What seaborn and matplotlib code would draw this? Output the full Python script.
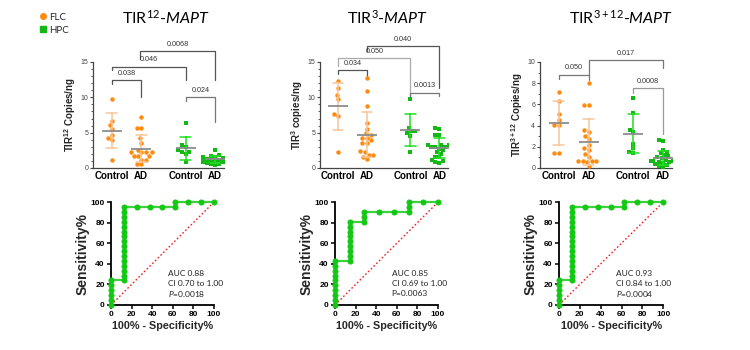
import numpy as np
import pandas as pd
import matplotlib
matplotlib.use('Agg')
import matplotlib.pyplot as plt
import seaborn as sns
from matplotlib.lines import Line2D
from matplotlib.ticker import MultipleLocator

sns.set_theme(style='ticks')
plt.rcParams['font.family'] = ['Liberation Sans', 'DejaVu Sans']
plt.rcParams['mathtext.fontset'] = 'custom'
plt.rcParams['mathtext.rm'] = 'Lato'
plt.rcParams['mathtext.it'] = 'Lato:italic'
plt.rcParams['mathtext.bf'] = 'Liberation Sans:bold'

# ---------------- data ----------------
groups = ['FLC Control', 'FLC AD', 'HPC Control', 'HPC AD']
group_pos = [0, 1, 2.5, 3.5]
cat_labels = ['Control', 'AD', 'Control', 'AD']

# TIR12-MAPT
flc_ctrl_12 = [9.7, 6.7, 6.1, 5.5, 4.7, 4.2, 3.9, 1.2]
flc_ad_12 = [7.2, 5.7, 5.6, 4.2, 3.6, 2.6, 2.2, 2.2, 2.2, 2.2, 1.7, 1.7, 1.7, 1.2, 1.2, 0.6, 0.5]
hpc_ctrl_12 = [6.3, 3.2, 2.9, 2.5, 2.3, 2.2, 2.0, 0.8]
hpc_ad_12 = [2.6, 1.8, 1.7, 1.6, 1.6, 1.5, 1.5, 1.4, 1.3, 1.3, 1.2, 1.2, 1.1, 1.0, 1.0, 0.9, 0.8, 0.7, 0.6, 0.5, 0.4]

# TIR3-MAPT
flc_ctrl_3 = [12.3, 11.3, 10.3, 9.7, 7.7, 7.4, 2.2]
flc_ad_3 = [12.7, 10.9, 8.7, 6.4, 5.5, 4.9, 4.6, 4.3, 4.3, 3.9, 3.6, 3.6, 2.4, 2.3, 1.9, 1.9, 1.6, 1.3]
hpc_ctrl_3 = [9.7, 5.7, 5.3, 5.2, 4.9, 4.5, 2.2]
hpc_ad_3 = [5.6, 5.5, 4.6, 4.6, 3.3, 3.3, 3.2, 3.2, 3.0, 3.0, 2.9, 2.7, 2.5, 2.2, 2.0, 1.6, 1.5, 1.2, 1.0, 0.8, 0.7]

# TIR3+12-MAPT
flc_ctrl_312 = [7.15, 6.35, 5.05, 4.5, 4.05, 4.05, 1.4, 1.4]
flc_ad_312 = [8.0, 5.9, 5.9, 3.6, 3.4, 3.0, 2.7, 2.2, 1.9, 1.7, 1.3, 1.0, 0.7, 0.7, 0.7, 0.7, 0.6, 0.2]
hpc_ctrl_312 = [6.6, 5.15, 3.55, 3.35, 2.3, 1.9, 1.5, 1.45]
hpc_ad_312 = [2.6, 2.55, 1.7, 1.5, 1.4, 1.2, 1.1, 1.0, 0.9, 0.8, 0.8, 0.7, 0.7, 0.7, 0.6, 0.6, 0.5, 0.4, 0.3, 0.2, 0.1]

# ROC curves (100% - specificity %, sensitivity %)
roc1_fpr = [0, 0, 0, 0, 0, 0, 12.5, 12.5, 12.5, 12.5, 12.5, 12.5, 12.5, 12.5, 12.5, 12.5, 12.5, 12.5,
            12.5, 12.5, 12.5, 12.5, 25, 37.5, 50, 62.5, 62.5, 75, 87.5, 100]
roc1_tpr = [0, 4.8, 9.5, 14.3, 19.0, 23.8, 23.8, 28.6, 33.3, 38.1, 42.9, 47.6, 52.4, 57.1, 61.9, 66.7,
            71.4, 76.2, 81.0, 85.7, 90.5, 95.2, 95.2, 95.2, 95.2, 95.2, 100, 100, 100, 100]
roc2_fpr = [0, 0, 0, 0, 0, 0, 0, 0, 0, 0, 14.3, 14.3, 14.3, 14.3, 14.3, 14.3, 14.3, 14.3, 14.3,
            28.6, 28.6, 28.6, 42.9, 57.1, 71.4, 71.4, 71.4, 85.7, 100]
roc2_tpr = [0, 4.8, 9.5, 14.3, 19.0, 23.8, 28.6, 33.3, 38.1, 42.9, 42.9, 47.6, 52.4, 57.1, 61.9, 66.7,
            71.4, 76.2, 81.0, 81.0, 85.7, 90.5, 90.5, 90.5, 90.5, 95.2, 100, 100, 100]
roc3_fpr = [0, 0, 0, 0, 0, 0, 12.5, 12.5, 12.5, 12.5, 12.5, 12.5, 12.5, 12.5, 12.5, 12.5, 12.5, 12.5,
            12.5, 12.5, 12.5, 12.5, 25, 37.5, 50, 62.5, 62.5, 75, 87.5, 100]
roc3_tpr = [0, 4.8, 9.5, 14.3, 19.0, 23.8, 23.8, 28.6, 33.3, 38.1, 42.9, 47.6, 52.4, 57.1, 61.9, 66.7,
            71.4, 76.2, 81.0, 85.7, 90.5, 95.2, 95.2, 95.2, 95.2, 95.2, 100, 100, 100, 100]

titles = [r'TIR$^{12}$-$\mathit{MAPT}$', r'TIR$^{3}$-$\mathit{MAPT}$', r'TIR$^{3+12}$-$\mathit{MAPT}$']
ylabels = [r'TIR$^{\mathbf{12}}$ Copies/ng', r'TIR$^{\mathbf{3}}$ copies/ng', r'TIR$^{\mathbf{3+12}}$ Copies/ng']
roc_texts = [['AUC 0.88', 'CI 0.70 to 1.00', r'$\mathit{P}$=0.0018'],
             ['AUC 0.85', 'CI 0.69 to 1.00', 'P=0.0063'],
             ['AUC 0.93', 'CI 0.84 to 1.00', r'$\mathit{P}$=0.0004']]
# brackets: (x1, x2, y, left_bottom, right_bottom, label, color)
brackets = [
    [(0, 1, 12.4, 11.9, 10.0, '0.038', '#555555'),
     (0, 2.5, 14.3, 13.8, 12.5, '0.046', '#555555'),
     (0.95, 3.5, 16.5, 15.4, 12.5, '0.0068', '#555555'),
     (2.5, 3.5, 10.0, 9.5, 6.5, '0.024', '#777777')],
    [(0, 1, 13.8, 13.3, 13.0, '0.034', '#555555'),
     (0, 2.5, 15.5, 14.4, 10.1, '0.050', '#AAAAAA'),
     (1, 3.5, 17.2, 16.5, 11.3, '0.040', '#555555'),
     (2.5, 3.5, 10.6, 10.1, 10.2, '0.0013', '#777777')],
    [(0, 1, 8.8, 8.4, 8.3, '0.050', '#777777'),
     (1, 3.5, 10.15, 8.8, 9.4, '0.017', '#777777'),
     (2.5, 3.5, 7.5, 7.1, 3.2, '0.0008', '#999999')],
]

FLC = '#FF8A10'
HPC = '#14B814'
FLC_ERR = '#F8C69A'
HPC_ERR = '#22DD22'
MEAN_C = '#8C8C8C'
ROC_LINE = '#3DD13D'
ROC_MK = '#12C812'


def make_df(lists):
    rows = []
    for g, p, vals in zip(groups, group_pos, lists):
        for v in vals:
            rows.append({'group': g, 'pos': p, 'tissue': g.split()[0], 'value': v})
    return pd.DataFrame(rows)


dfs = [make_df([flc_ctrl_12, flc_ad_12, hpc_ctrl_12, hpc_ad_12]),
       make_df([flc_ctrl_3, flc_ad_3, hpc_ctrl_3, hpc_ad_3]),
       make_df([flc_ctrl_312, flc_ad_312, hpc_ctrl_312, hpc_ad_312])]
ylims = [(0, 15), (0, 15), (0, 10)]
ymaj = [5, 5, 2]
ymin = [1, 1, 1]
rocs = [(roc1_fpr, roc1_tpr), (roc2_fpr, roc2_tpr), (roc3_fpr, roc3_tpr)]

fig = plt.figure(figsize=(7.5, 3.5), dpi=100)

sc_rects = [(0.124, 0.52, 0.1747, 0.303), (0.4267, 0.52, 0.1707, 0.303), (0.72, 0.52, 0.176, 0.303)]
roc_rects = [(0.148, 0.1286, 0.1373, 0.294), (0.4467, 0.1286, 0.1373, 0.294), (0.7453, 0.1286, 0.139, 0.294)]
title_x = [0.221, 0.517, 0.828]

for i in range(3):
    ax = fig.add_axes(sc_rects[i])
    df = dfs[i]
    ax.set_xlim(-0.63, 3.8)
    ax.set_ylim(*ylims[i])
    flc = df[df.tissue == 'FLC']
    hpc = df[df.tissue == 'HPC']
    sns.swarmplot(data=flc, x='pos', y='value', native_scale=True, color=FLC, marker='o',
                  size=3.2, linewidth=0, ax=ax, zorder=3, warn_thresh=1)
    sns.swarmplot(data=hpc, x='pos', y='value', native_scale=True, color=HPC, marker='s',
                  size=2.9, linewidth=0, ax=ax, zorder=3, warn_thresh=1)
    for sub, ec in ((flc, FLC_ERR), (hpc, HPC_ERR)):
        sns.pointplot(data=sub, x='pos', y='value', native_scale=True, errorbar='sd',
                      capsize=0.36, color=ec, linestyle='none', marker='',
                      err_kws={'linewidth': 1.1, 'zorder': 4}, ax=ax)
        sns.pointplot(data=sub, x='pos', y='value', native_scale=True, errorbar=None,
                      color=MEAN_C, linestyle='none', marker='_', markersize=14,
                      markeredgewidth=1.3, ax=ax, zorder=5)
    ax.set_xlim(-0.63, 3.8)
    ax.set_ylim(*ylims[i])
    ax.set_xticks(group_pos)
    ax.set_xticklabels(cat_labels, fontsize=7, fontweight='bold', color='black')
    ax.tick_params(axis='x', length=0, pad=2)
    ax.yaxis.set_major_locator(MultipleLocator(ymaj[i]))
    ax.yaxis.set_minor_locator(MultipleLocator(ymin[i]))
    ax.tick_params(axis='y', which='major', labelsize=5, colors='#444444', length=2.5, width=0.8, pad=1)
    ax.tick_params(axis='y', which='minor', length=1.3, width=0.6, colors='#444444')
    ax.set_xlabel('')
    ax.set_ylabel(ylabels[i], fontsize=7, fontweight='bold', labelpad=2)
    for s in ('top', 'right'):
        ax.spines[s].set_visible(False)
    for s in ('left', 'bottom'):
        ax.spines[s].set_color('#444444')
        ax.spines[s].set_linewidth(0.9)
    if ax.get_legend():
        ax.get_legend().remove()
    for (x1, x2, y, lb, rb, lab, col) in brackets[i]:
        ax.plot([x1, x1, x2, x2], [lb, y, y, rb], color=col, lw=0.9, clip_on=False, zorder=2)
        ax.text((x1 + x2) / 2, y + ylims[i][1] * 0.035, lab, ha='center', va='bottom',
                fontsize=5.2, color='#333333')
    fig.text(title_x[i], 0.95, titles[i], ha='center', va='center', fontsize=11.5,
             family='Lato', color='black')

    # ROC panel
    rax = fig.add_axes(roc_rects[i])
    fpr, tpr = rocs[i]
    rax.plot([0, 100], [0, 100], color='#EE2222', linestyle=(0, (1.2, 1.6)), lw=1.0, zorder=1)
    sns.lineplot(x=fpr, y=tpr, sort=False, estimator=None, ax=rax, color=ROC_LINE, lw=1.6,
                 marker='o', markersize=3.6, markerfacecolor=ROC_MK, markeredgecolor=ROC_MK,
                 clip_on=False, zorder=3)
    rax.set_xlim(0, 100)
    rax.set_ylim(0, 100)
    rax.set_xticks(range(0, 101, 20))
    rax.set_yticks(range(0, 101, 20))
    for lab in rax.get_xticklabels() + rax.get_yticklabels():
        lab.set_fontweight('bold')
    rax.tick_params(labelsize=6, length=3, width=1.1, pad=1.5, colors='black')
    for s in ('top', 'right'):
        rax.spines[s].set_visible(False)
    for s in ('left', 'bottom'):
        rax.spines[s].set_color('black')
        rax.spines[s].set_linewidth(1.3)
    rax.set_xlabel('100% - Specificity%', fontsize=7.8, fontweight='bold', labelpad=2)
    rax.set_ylabel('Sensitivity%', fontsize=10, fontweight='bold', labelpad=1)
    for k, t in enumerate(roc_texts[i]):
        rax.text(55, 31 - k * 10, t, fontsize=6, family='Lato', va='center', ha='left', color='#222222')

handles = [Line2D([], [], marker='o', color=FLC, ls='none', markersize=4, label='FLC'),
           Line2D([], [], marker='s', color=HPC, ls='none', markersize=4, label='HPC')]
fig.legend(handles=handles, loc='upper left', bbox_to_anchor=(0.045, 0.975), frameon=False,
           prop={'family': 'Lato', 'size': 7}, handletextpad=0.2, labelspacing=0.4,
           handlelength=1.0, borderaxespad=0)

fig.savefig('out.png', dpi=100, facecolor='white')
